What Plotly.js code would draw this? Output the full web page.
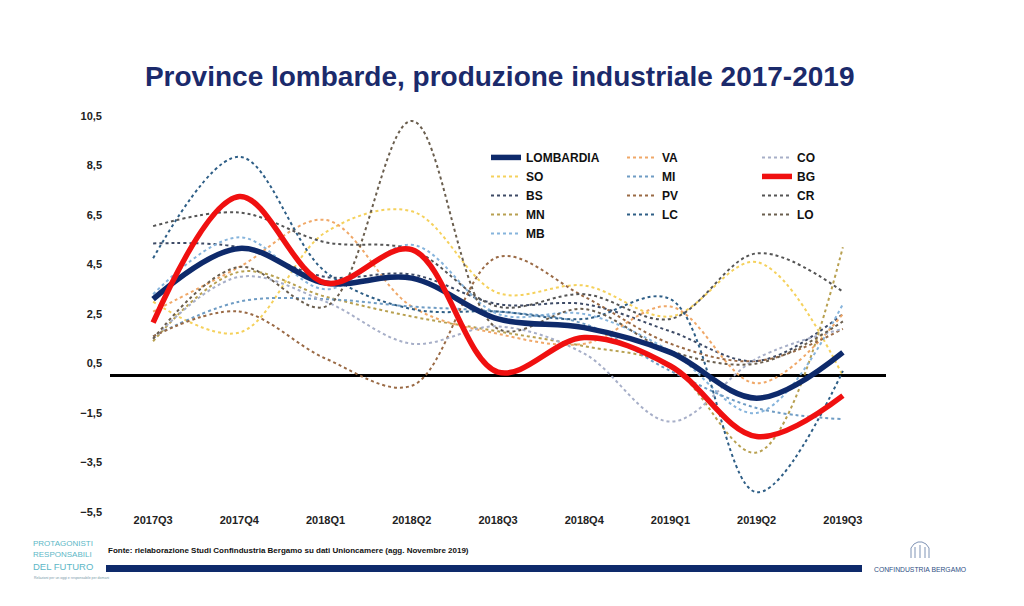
<!DOCTYPE html>
<html>
<head>
<meta charset="utf-8">
<script src="https://cdn.plot.ly/plotly-3.0.1.min.js"></script>
<style>html,body{margin:0;padding:0;background:#fff;}#chart{width:1024px;height:606px;}</style>
</head>
<body>
<div id="chart"></div>
<script>
const quarters = ['2017Q3','2017Q4','2018Q1','2018Q2','2018Q3','2018Q4','2019Q1','2019Q2','2019Q3'];
const yTickVals = [-5.5,-3.5,-1.5,0.5,2.5,4.5,6.5,8.5,10.5];

const LOMBARDIA = [3.1, 5.15, 3.75, 3.95, 2.3, 1.95, 0.95, -0.9, 0.95];
const BG        = [2.15, 7.25, 3.75, 5.1, 0.15, 1.55, 0.4, -2.45, -0.8];
const SO = [3.0, 1.75, 5.8, 6.65, 3.35, 3.65, 2.4, 4.6, 0.0];
const VA = [2.6, 4.4, 6.3, 2.8, 1.7, 1.3, 2.8, -0.3, 2.5];
const PV = [1.6, 2.6, 0.7, -0.4, 4.8, 3.2, 1.3, 0.6, 1.9];
const LO = [1.5, 4.4, 2.8, 10.3, 1.9, 2.7, 1.0, 0.5, 2.2];
const LC = [4.75, 8.85, 4.2, 2.7, 2.6, 2.3, 3.1, -4.7, 0.2];
const CR = [6.05, 6.6, 5.4, 5.1, 2.8, 3.3, 2.3, 4.95, 3.4];
const BS = [5.35, 5.2, 4.0, 4.1, 2.9, 2.9, 1.8, 0.6, 2.5];
const MN = [1.4, 4.2, 3.2, 2.4, 1.8, 1.2, 0.4, -3.1, 5.2];
const MB = [3.3, 5.6, 3.5, 5.3, 2.5, 2.5, 1.0, -1.5, 2.9];
const MI = [1.6, 3.0, 3.1, 2.8, 2.6, 2.1, 0.2, -1.3, -1.75];
const CO = [1.5, 4.0, 3.0, 1.3, 2.0, 0.9, -1.85, 0.7, 1.9];

const FONT = 'Liberation Sans, Arial, sans-serif';

function dotted(name, y, color, legend, rank) {
  return {x: quarters, y: y, name: name, type: 'scatter', mode: 'lines',
    line: {color: color, width: 2, dash: 'dot', shape: 'spline', smoothing: 1},
    legend: legend, legendrank: rank, hoverinfo: 'skip'};
}

const traces = [
  dotted('SO', SO, '#F5D15C', 'legend', 2),
  dotted('BS', BS, '#3E4B66', 'legend', 3),
  dotted('MN', MN, '#B8A050', 'legend', 4),
  dotted('MB', MB, '#86B4DC', 'legend', 5),
  dotted('VA', VA, '#F0A868', 'legend2', 1),
  dotted('MI', MI, '#6F9CC4', 'legend2', 2),
  dotted('PV', PV, '#9A6A45', 'legend2', 3),
  dotted('LC', LC, '#2E5E86', 'legend2', 4),
  dotted('CO', CO, '#A7AFC8', 'legend3', 1),
  dotted('CR', CR, '#555555', 'legend3', 3),
  dotted('LO', LO, '#6A5E4E', 'legend3', 4),
  {x: quarters, y: LOMBARDIA, name: 'LOMBARDIA', type: 'scatter', mode: 'lines',
   line: {color: '#0E2A6B', width: 5.5, shape: 'spline', smoothing: 1},
   legend: 'legend', legendrank: 1, hoverinfo: 'skip'},
  {x: quarters, y: BG, name: 'BG', type: 'scatter', mode: 'lines',
   line: {color: '#F01010', width: 5.5, shape: 'spline', smoothing: 1},
   legend: 'legend3', legendrank: 2, hoverinfo: 'skip'}
];

const legFont = {family: FONT, size: 12, color: '#111', weight: 'bold'};
function leg(x) {
  return {x: x, y: 0.932, xanchor: 'left', yanchor: 'top', orientation: 'v',
    bgcolor: 'rgba(0,0,0,0)', borderwidth: 0, font: legFont, tracegroupgap: 0, itemwidth: 30};
}

const W = 776, H = 396, L = 110, B = 512;
function px(x) { return (x - L) / W; }
function py(y) { return (B - y) / H; }

// simple emblem outline above "CONFINDUSTRIA BERGAMO"
const emblem = 'M ' + [[911,558],[911,548],[914,544],[918,542],[922,542],[926,544],[929,548],[929,558]]
  .map(p => px(p[0]) + ',' + py(p[1])).join(' L ');

const layout = {
  width: 1024, height: 606,
  margin: {l: 110, r: 138, t: 116, b: 94, pad: 0},
  paper_bgcolor: '#fff', plot_bgcolor: '#fff',
  separators: ',.',
  showlegend: true,
  title: {text: 'Province lombarde, produzione industriale 2017-2019',
    font: {family: FONT, size: 28, color: '#1B2A6B', weight: 'bold'},
    x: 0.488, xanchor: 'center', y: 1 - 76/606, yanchor: 'middle', xref: 'container', yref: 'container'},
  xaxis: {type: 'category', range: [-0.5, 8.5], showgrid: false, zeroline: false, showline: false,
    ticks: '', tickfont: {family: FONT, size: 11, color: '#222', weight: 'bold'}},
  yaxis: {range: [-5.5, 10.5], tickvals: yTickVals, tickformat: '.1f', showgrid: false,
    zeroline: true, zerolinecolor: '#000', zerolinewidth: 3, showline: false, ticks: '',
    ticklabelstandoff: 7,
    tickfont: {family: FONT, size: 11, color: '#222', weight: 'bold'}},
  legend: leg(px(486)),
  legend2: leg(px(622)),
  legend3: leg(px(757)),
  shapes: [
    {type: 'rect', xref: 'paper', yref: 'paper', x0: px(106), x1: px(862), y0: py(572), y1: py(565),
     fillcolor: '#0E2A6B', line: {width: 0}, layer: 'above'},
    {type: 'path', xref: 'paper', yref: 'paper', path: emblem,
     line: {color: '#7F93B5', width: 1}, fillcolor: 'rgba(0,0,0,0)', layer: 'above'},
    {type: 'line', xref: 'paper', yref: 'paper', x0: px(915), x1: px(915), y0: py(547), y1: py(558),
     line: {color: '#7F93B5', width: 1}},
    {type: 'line', xref: 'paper', yref: 'paper', x0: px(920), x1: px(920), y0: py(545), y1: py(558),
     line: {color: '#7F93B5', width: 1}},
    {type: 'line', xref: 'paper', yref: 'paper', x0: px(925), x1: px(925), y0: py(547), y1: py(558),
     line: {color: '#7F93B5', width: 1}}
  ],
  annotations: [
    {text: 'Fonte: rielaborazione Studi Confindustria Bergamo su dati Unioncamere (agg. Novembre 2019)',
     xref: 'paper', yref: 'paper', x: px(106), y: py(550), xanchor: 'left', yanchor: 'middle',
     showarrow: false, font: {family: FONT, size: 8, color: '#111', weight: 'bold'}},
    {text: 'PROTAGONISTI', xref: 'paper', yref: 'paper', x: px(31), y: py(543), xanchor: 'left', yanchor: 'middle',
     showarrow: false, font: {family: FONT, size: 8, color: '#5DB7C6'}},
    {text: 'RESPONSABILI', xref: 'paper', yref: 'paper', x: px(31), y: py(554), xanchor: 'left', yanchor: 'middle',
     showarrow: false, font: {family: FONT, size: 8, color: '#5DB7C6'}},
    {text: 'DEL FUTURO', xref: 'paper', yref: 'paper', x: px(31), y: py(566), xanchor: 'left', yanchor: 'middle',
     showarrow: false, font: {family: FONT, size: 9.5, color: '#5DB7C6'}},
    {text: 'Relazioni per un oggi e responsabile per domani', xref: 'paper', yref: 'paper', x: px(32), y: py(578), xanchor: 'left', yanchor: 'middle',
     showarrow: false, font: {family: FONT, size: 3.5, color: '#7A9AAA'}},
    {text: 'CONFINDUSTRIA BERGAMO', xref: 'paper', yref: 'paper', x: px(920), y: py(569), xanchor: 'center', yanchor: 'middle',
     showarrow: false, font: {family: FONT, size: 6.8, color: '#2F4F84'}}
  ]
};

Plotly.newPlot('chart', traces, layout, {displayModeBar: false, staticPlot: true});
</script>
</body>
</html>
